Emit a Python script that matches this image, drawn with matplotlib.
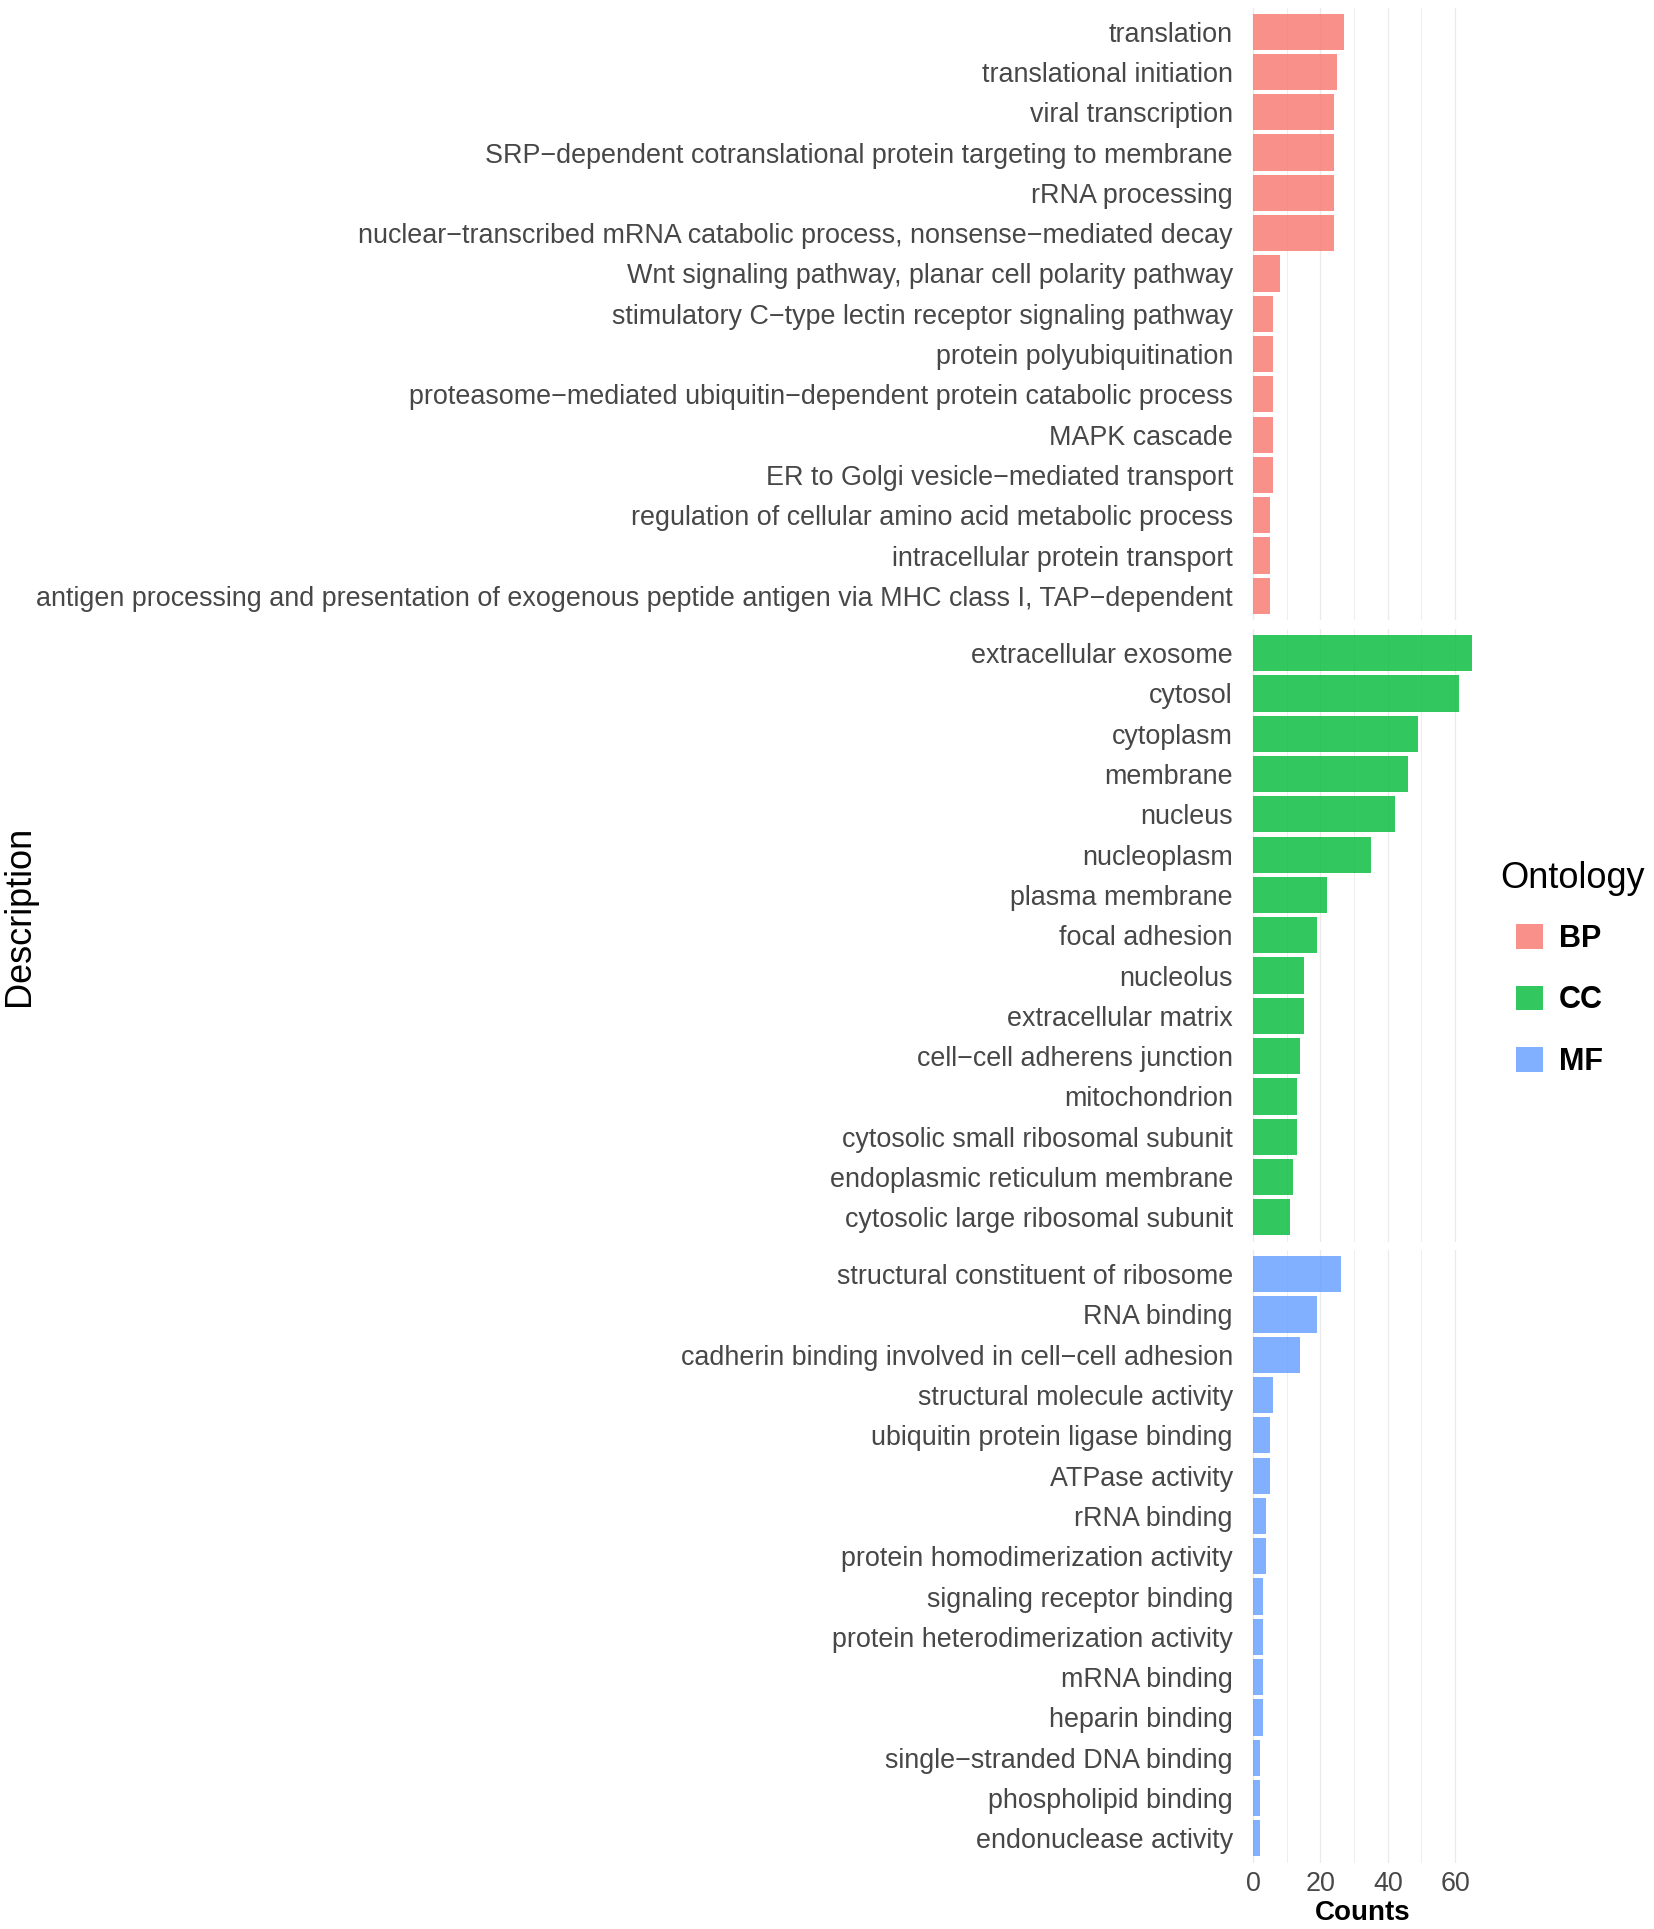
import numpy as np
import matplotlib
matplotlib.use('Agg')
import matplotlib.pyplot as plt
from matplotlib.patches import Patch
from matplotlib.ticker import MultipleLocator

plt.rcParams['font.family'] = ['Liberation Sans', 'DejaVu Sans']

# Data

bp_terms = ['translation', 'translational initiation', 'viral transcription',
            'SRP\u2212dependent cotranslational protein targeting to membrane',
            'rRNA processing',
            'nuclear\u2212transcribed mRNA catabolic process, nonsense\u2212mediated decay',
            'Wnt signaling pathway, planar cell polarity pathway',
            'stimulatory C\u2212type lectin receptor signaling pathway',
            'protein polyubiquitination',
            'proteasome\u2212mediated ubiquitin\u2212dependent protein catabolic process',
            'MAPK cascade', 'ER to Golgi vesicle\u2212mediated transport',
            'regulation of cellular amino acid metabolic process',
            'intracellular protein transport',
            'antigen processing and presentation of exogenous peptide antigen via MHC class I, TAP\u2212dependent']
bp_counts = [27, 25, 24, 24, 24, 24, 8, 6, 6, 6, 6, 6, 5, 5, 5]

cc_terms = ['extracellular exosome', 'cytosol', 'cytoplasm', 'membrane', 'nucleus',
            'nucleoplasm', 'plasma membrane', 'focal adhesion', 'nucleolus',
            'extracellular matrix', 'cell\u2212cell adherens junction', 'mitochondrion',
            'cytosolic small ribosomal subunit', 'endoplasmic reticulum membrane',
            'cytosolic large ribosomal subunit']
cc_counts = [65, 61, 49, 46, 42, 35, 22, 19, 15, 15, 14, 13, 13, 12, 11]

mf_terms = ['structural constituent of ribosome', 'RNA binding',
            'cadherin binding involved in cell\u2212cell adhesion',
            'structural molecule activity', 'ubiquitin protein ligase binding',
            'ATPase activity', 'rRNA binding', 'protein homodimerization activity',
            'signaling receptor binding', 'protein heterodimerization activity',
            'mRNA binding', 'heparin binding', 'single\u2212stranded DNA binding',
            'phospholipid binding', 'endonuclease activity']
mf_counts = [26, 19, 14, 6, 5, 5, 4, 4, 3, 3, 3, 3, 2, 2, 2]

ontologies = ['BP', 'CC', 'MF']
colors = ['#F8766D', '#00BA38', '#619CFF']


def draw_panel(ax, terms, counts, color, show_x):

    # One facet: horizontal bars, first term on top

    y = np.arange(len(terms))
    ax.barh(y, counts, height=0.9, color=color, alpha=0.8, zorder=2)
    ax.set_yticks(y)
    ax.set_yticklabels(terms)
    ax.set_ylim(len(terms) - 0.4, -0.6)
    ax.set_xlim(-3.25, 68.25)
    ax.xaxis.set_major_locator(MultipleLocator(20))
    ax.xaxis.set_minor_locator(MultipleLocator(10))
    ax.grid(True, axis='x', which='major', color='#EBEBEB', linewidth=1.0, zorder=0)
    ax.grid(True, axis='x', which='minor', color='#EBEBEB', linewidth=0.6, zorder=0)
    ax.set_axisbelow(True)
    for s in ax.spines.values():
        s.set_visible(False)
    ax.tick_params(axis='both', which='both', length=0, colors='#474747', labelsize=19.4)
    ax.tick_params(axis='y', pad=6.5)
    ax.tick_params(axis='x', pad=6)
    if not show_x:
        ax.tick_params(axis='x', labelbottom=False)


def main():

    fig = plt.figure(figsize=(16.54, 19.29), dpi=100)
    W, H = 1654.0, 1929.0

    left = 1242 / W
    width = (1483 - 1242) / W
    tops = [7.5, 629, 1250]
    ph = 612.5

    panels = [(bp_terms, bp_counts), (cc_terms, cc_counts), (mf_terms, mf_counts)]
    axes = []
    for i, (terms, counts) in enumerate(panels):
        ax = fig.add_axes([left, 1 - (tops[i] + ph) / H, width, ph / H])
        draw_panel(ax, terms, counts, colors[i], show_x=(i == 2))
        axes.append(ax)

    axes[2].set_xlabel('Counts', fontsize=20, fontweight='bold', color='black', labelpad=2)

    fig.text(20 / W, 1 - 916 / H, 'Description', rotation=90, fontsize=26,
             ha='center', va='center', color='black')

    # Legend
    fig.text(1500 / W, 1 - 878 / H, 'Ontology', fontsize=26, ha='left', va='center',
             color='black')
    handles = [Patch(facecolor=c, alpha=0.8, edgecolor='none') for c in colors]
    leg = fig.legend(handles, ontologies, loc='upper left',
                     bbox_to_anchor=(1516 / W, 1 - 924 / H), frameon=False,
                     borderpad=0, borderaxespad=0, handlelength=0.88, handleheight=0.85,
                     handletextpad=0.52, labelspacing=1.03, fontsize=22)
    for t in leg.get_texts():
        t.set_fontweight('bold')
        t.set_color('black')

    fig.savefig('out.png', dpi=100, facecolor='white')


if __name__ == "__main__":
    main()
